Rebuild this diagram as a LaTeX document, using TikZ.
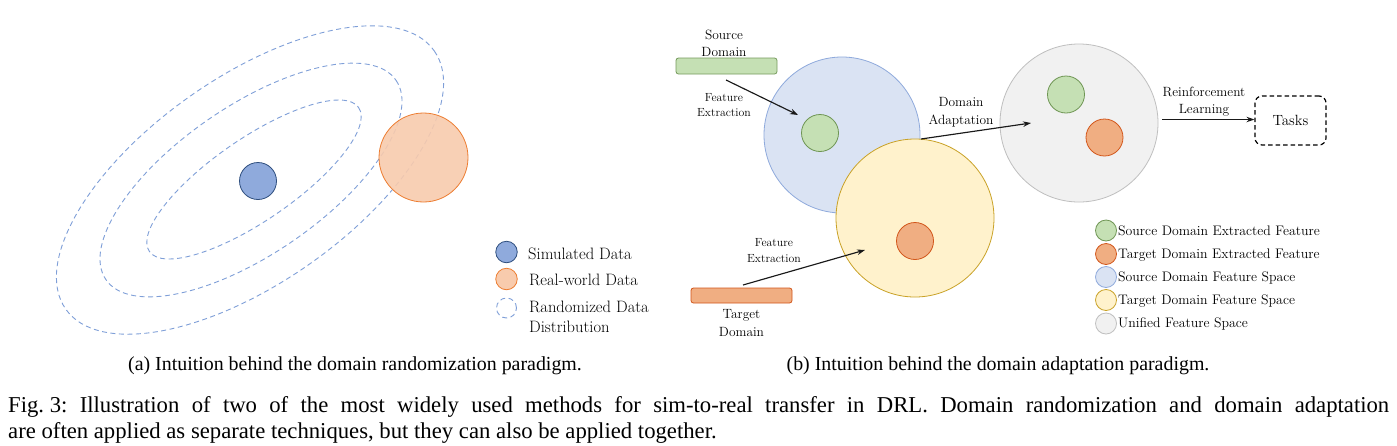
\documentclass[tikz,border=0pt]{standalone}
\usepackage{fontspec}
\newfontfamily\capfont{Liberation Serif}
\usetikzlibrary{arrows.meta}
\definecolor{simfill}{HTML}{8FAADC}
\definecolor{simdraw}{HTML}{2F4F7F}
\definecolor{realfill}{HTML}{F8CBAD}
\definecolor{realdraw}{HTML}{ED7D31}
\definecolor{distcol}{HTML}{7F9FD8}
\definecolor{grfill}{HTML}{C5E0B4}
\definecolor{grdraw}{HTML}{548235}
\definecolor{orfill}{HTML}{F0AE82}
\definecolor{ordraw}{HTML}{D2561A}
\definecolor{bluefill}{HTML}{DAE3F3}
\definecolor{bluedraw}{HTML}{8FAADC}
\definecolor{yelfill}{HTML}{FFF2CC}
\definecolor{yeldraw}{HTML}{C9A227}
\definecolor{grayfill}{HTML}{F1F1F1}
\definecolor{graydraw}{HTML}{BFBFBF}
\tikzset{
  dot/.style={circle, inner sep=0pt, line width=0.8pt, minimum size=#1},
  dot/.default=37pt,
  distr/.style={draw=distcol, line width=0.9pt, dash pattern=on 5pt off 3.5pt},
  bar/.style={rectangle, rounded corners=2.5pt, inner sep=0pt, minimum width=101pt, minimum height=16pt, line width=0.8pt},
  lbl/.style={align=center, font=\fontsize{13.4}{17.5}\selectfont, inner sep=0pt},
  small/.style={align=center, font=\fontsize{11.8}{15.5}\selectfont, inner sep=0pt},
  legl/.style={anchor=west, align=left, font=\fontsize{16.5}{20}\selectfont, inner sep=0pt},
  legr/.style={anchor=west, font=\fontsize{13.8}{16}\selectfont, inner sep=0pt},
  arr/.style={-{Stealth[length=8pt,width=5.5pt]}, line width=1.15pt, black!90},
  subcap/.style={font=\capfont\fontsize{19.9}{24}\selectfont, inner sep=0pt},
  captxt/.style={font=\capfont\fontsize{22.7}{26}\selectfont\frenchspacing, inner sep=0pt}
}
\begin{document}
\begin{tikzpicture}[x=1pt,y=-1pt]
\useasboundingbox[fill=white] (0,0) rectangle (1397,445);

% ---------- panel (a) ----------
\draw[distr, rotate around={35:(250,180)}] (250,180) ellipse [x radius=225, y radius=103];
\draw[distr, rotate around={34.5:(251,180)}] (251,180) ellipse [x radius=176, y radius=74];
\draw[distr, rotate around={34.5:(254,179.5)}] (254,179.5) ellipse [x radius=127, y radius=41];

\node[dot, draw=simdraw, fill=simfill] (sim) at (258,181) {};
\node[dot=89pt, draw=realdraw, fill=realfill, fill opacity=0.9, draw opacity=1] (real) at (423.5,157.5) {};

\node[dot=21.5pt, draw=simdraw, fill=simfill] (lsim) at (506.5,252) {};
\node[dot=21.5pt, draw=realdraw, fill=realfill] (lreal) at (506.5,279) {};
\node[dot=20pt, distr] (ldist) at (506.5,308) {};
\node[legl] (tsim) at (528,254) {Simulated Data};
\node[legl] (treal) at (529,280) {Real-world Data};
\node[legl] (tdist) at (529,317) {Randomized Data\\Distribution};

% ---------- panel (b) ----------
\node[bar, draw=grdraw!80, fill=grfill] (sbar) at (726.5,66) {};
\node[lbl] (slab) at (724,43.5) {Source\\Domain};
\node[small] (sfe) at (724,105) {Feature\\Extraction};

\node[dot=156pt, draw=bluedraw, fill=bluefill] (sfs) at (842,135) {};
\node[dot, draw=grdraw!85, fill=grfill] (sfeat) at (820,133) {};
\node[dot=158pt, draw=yeldraw, fill=yelfill] (tfs) at (915,218) {};
\node[dot, draw=ordraw, fill=orfill] (tfeat) at (915,241) {};

\node[bar, minimum height=15pt, draw=ordraw, fill=orfill] (tbar) at (741.5,295.5) {};
\node[lbl] (tlab) at (741.5,323) {Target\\Domain};
\node[small] (tfe) at (774,250.5) {Feature\\Extraction};

\node[dot=158pt, draw=graydraw, fill=grayfill] (ufs) at (1079,123) {};
\node[dot, draw=grdraw!85, fill=grfill] (ugr) at (1066,94.5) {};
\node[dot, draw=ordraw, fill=orfill] (uor) at (1104.5,137.5) {};

\node[lbl] (dalab) at (961,112) {Domain\\Adaptation};
\node[lbl] (rllab) at (1204,101.5) {Reinforcement\\Learning};
\node[draw, dash pattern=on 4.5pt off 3pt, line width=1.2pt, rounded corners=7pt,
      minimum width=71pt, minimum height=49pt, inner sep=0pt,
      font=\fontsize{14.8}{17}\selectfont] (tasks) at (1290.5,120.5) {Tasks};

\coordinate (a1s) at (726,80);
\coordinate (a1e) at (798,115);
\coordinate (a2s) at (743,285);
\coordinate (a2e) at (865,250);
\coordinate (a3s) at (921,139);
\coordinate (a3e) at (1031,123);
\coordinate (a4s) at (1162,119.5);
\draw[arr] (a1s) -- (a1e);
\draw[arr] (a2s) -- (a2e);
\draw[arr] (a3s) -- (a3e);
\draw[arr] (a4s) -- (tasks.west |- a4s);

% legend (b)
\node[dot=21pt, draw=grdraw!85, fill=grfill] (lg1) at (1106,230.5) {};
\node[dot=21pt, draw=ordraw, fill=orfill] (lg2) at (1106,254) {};
\node[dot=21pt, draw=bluedraw, fill=bluefill] (lg3) at (1106,277) {};
\node[dot=21pt, draw=yeldraw, fill=yelfill] (lg4) at (1106,300) {};
\node[dot=21pt, draw=graydraw, fill=grayfill] (lg5) at (1106,323.5) {};
\node[legr] (tl1) at (1118,231) {Source Domain Extracted Feature};
\node[legr] (tl2) at (1118,255) {Target Domain Extracted Feature};
\node[legr] (tl3) at (1118,278) {Source Domain Feature Space};
\node[legr] (tl4) at (1118,301) {Target Domain Feature Space};
\node[legr] (tl5) at (1118,324) {Unified Feature Space};

% ---------- captions ----------
\node[subcap] (capa) at (355,366) {(a) Intuition behind the domain randomization paradigm.};
\node[subcap] (capb) at (998,366) {(b) Intuition behind the domain adaptation paradigm.};
\node[captxt, anchor=west] (fig1) at (8,407) {\makebox[1381pt][s]{\mbox{Fig. 3:} Illustration of two of the most widely used methods for sim-to-real transfer in DRL. Domain randomization and domain adaptation}};
\node[captxt, anchor=west] (fig2) at (8,433) {are often applied as separate techniques, but they can also be applied together.};
\end{tikzpicture}
\end{document}
